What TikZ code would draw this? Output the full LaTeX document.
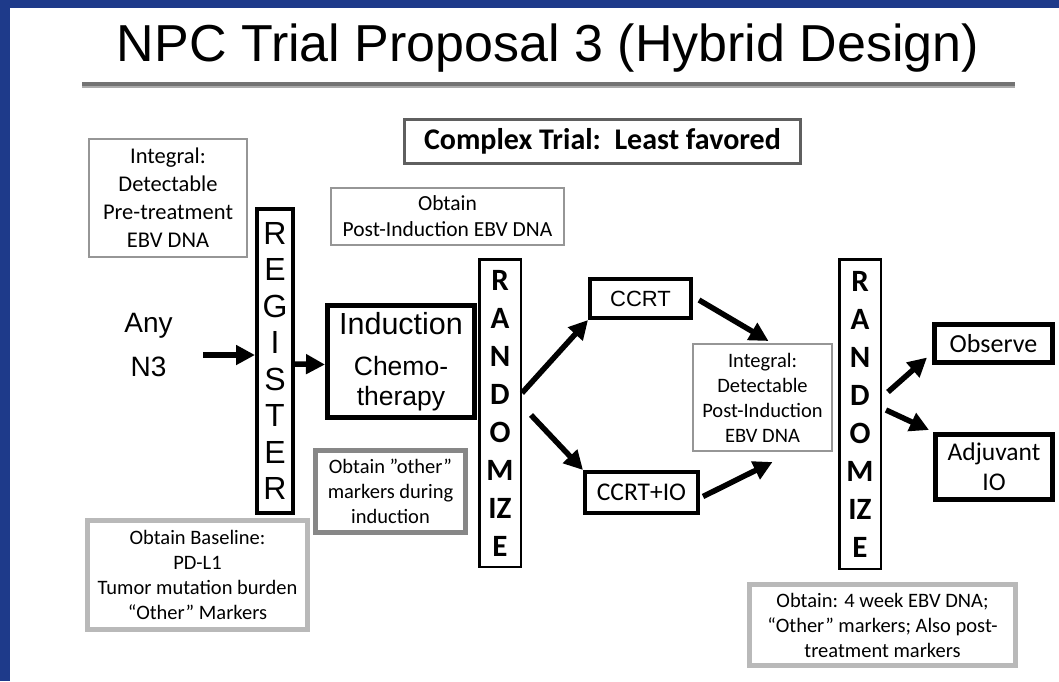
\documentclass[tikz,border=0pt]{standalone}
\usepackage{fontspec}
\setmainfont{Carlito}
\newfontfamily\arialf{Liberation Sans}
\usetikzlibrary{arrows.meta}
\definecolor{bandblue}{RGB}{30,58,138}
\definecolor{thingray}{RGB}{150,150,150}
\definecolor{darkgraytwo}{RGB}{95,95,95}
\definecolor{midgray}{RGB}{135,135,135}
\definecolor{lightgraytwo}{RGB}{185,185,185}
\definecolor{rulegray}{RGB}{115,115,115}
\tikzset{
  box/.style={inner sep=0pt, align=center, fill=white},
  thinbox/.style={box, draw=thingray, line width=2pt},
  thickgraybox/.style={box, draw=lightgraytwo, line width=5pt},
  midgraybox/.style={box, draw=midgray, line width=5pt},
  blackbox/.style={box, draw=black, line width=4pt},
  thinblackbox/.style={box, draw=black, line width=2.5pt},
  txt/.style={font=\fontsize{20.5}{25}\selectfont},
  arr/.style={line width=5.5pt, -{Triangle[length=19pt,width=19pt]}},
}
\begin{document}
\begin{tikzpicture}[x=1pt,y=-1pt]
\useasboundingbox (0,0) rectangle (1059,681);
\fill[white] (0,0) rectangle (1059,681);
\fill[bandblue] (0,0) rectangle (1059,8);
\fill[bandblue] (0,0) rectangle (10,681);

% title and rule
\node[anchor=base, inner sep=0pt, font=\arialf\fontsize{52}{60}\selectfont] (title) at (548,61) {NPC Trial Proposal 3 (Hybrid Design)};
\coordinate (r1) at (82,84);
\coordinate (r2) at (1015,84);
\draw[rulegray!60, line width=5pt] ([yshift=-1.5pt]r1) -- ([yshift=-1.5pt]r2);
\draw[rulegray, line width=3.5pt] (r1) -- (r2);

% top boxes
\node[box, draw=darkgraytwo, line width=2.5pt, minimum width=396, minimum height=44,
      font=\bfseries\fontsize{30}{34}\selectfont] (complex) at (602.5,141.5) {Complex Trial:\ \ Least favored};
\node[thinbox, minimum width=158, minimum height=118, font=\fontsize{22.5}{28}\selectfont] (integral1) at (168,198)
  {Integral:\\Detectable\\Pre-treatment\\EBV DNA};
\node[thinbox, minimum width=233, minimum height=57, font=\fontsize{21.5}{26}\selectfont] (postind) at (447.5,216.5)
  {Obtain\\Post-Induction EBV DNA};

% left side
\node[anchor=base, inner sep=0pt, font=\arialf\fontsize{28}{30}\selectfont] (any) at (148.5,332) {Any};
\node[anchor=base, inner sep=0pt, font=\arialf\fontsize{28}{30}\selectfont] (nthree) at (148.5,376) {N3};

\node[blackbox, minimum width=36, minimum height=304, font=\arialf\fontsize{32}{36.5}\selectfont] (register) at (275,361)
  {R\\E\\G\\I\\S\\T\\E\\R};

\node[blackbox, line width=5pt, minimum width=147, minimum height=112, font=\arialf\fontsize{26.5}{30}\selectfont] (induction) at (401,361.5)
  {{\fontsize{30.5}{30}\selectfont Induction}\\[11pt]Chemo-\\therapy};

\node[thinblackbox, minimum width=41.5, minimum height=307.5, font=\bfseries\fontsize{31}{38}\selectfont] (randA) at (500,413)
  {R\\A\\N\\D\\O\\M\\IZ\\E};

\node[midgraybox, minimum width=150, minimum height=82, txt] (other) at (390.5,491.5)
  {Obtain ”other”\\markers during\\induction};
\node[thickgraybox, minimum width=220, minimum height=109, txt] (baseline) at (197.5,575)
  {Obtain Baseline:\\PD-L1\\Tumor mutation burden\\“Other” Markers};

% middle
\node[blackbox, minimum width=101, minimum height=39, font=\arialf\fontsize{22}{26}\selectfont] (ccrt) at (640.5,298.5) {CCRT};
\node[blackbox, minimum width=113, minimum height=41, font=\fontsize{25.5}{30}\selectfont] (ccrtio) at (641.5,492.5) {CCRT+IO};
\node[thinbox, minimum width=139, minimum height=107, txt] (integral2) at (762.5,397.5)
  {Integral:\\Detectable\\Post-Induction\\EBV DNA};

% right
\node[thinblackbox, minimum width=41.5, minimum height=309.5, font=\bfseries\fontsize{31}{38}\selectfont] (randB) at (860,414)
  {R\\A\\N\\D\\O\\M\\IZ\\E};
\node[blackbox, line width=5pt, minimum width=118, minimum height=38, font=\fontsize{26}{30}\selectfont] (observe) at (993.5,343.5) {Observe};
\node[blackbox, line width=5pt, minimum width=117, minimum height=65, font=\fontsize{25.5}{30}\selectfont] (adjuv) at (994,467) {Adjuvant\\IO};
\node[thickgraybox, minimum width=266, minimum height=81, txt] (week) at (882.5,625)
  {Obtain: 4 week EBV DNA;\\“Other” markers; Also post-\\treatment markers};

% arrows
\coordinate (a0) at (203,355);
\draw[arr] (a0) -- (a0 -| register.west);
\draw[arr] ([yshift=-3pt]register.east) -- ([yshift=-3pt]induction.west);
\draw[arr] ([yshift=20pt]randA.east) -- (ccrt.south west);
\draw[arr] ([xshift=9pt,yshift=-2pt]randA.east) -- (ccrtio.north west);
\draw[arr] ([xshift=6pt,yshift=-1.5pt]ccrt.east) -- ([xshift=6pt,yshift=2pt]integral2.north);
\draw[arr] ([xshift=3pt,yshift=-4pt]ccrtio.east) -- ([xshift=10pt,yshift=-10pt]integral2.south);
\draw[arr] ([xshift=6pt,yshift=22pt]randB.east) -- ([xshift=-5pt,yshift=-14pt]observe.west);
\draw[arr] ([xshift=4pt,yshift=4pt]randB.east) -- ([xshift=-4pt,yshift=2pt]adjuv.north west);
\end{tikzpicture}
\end{document}
